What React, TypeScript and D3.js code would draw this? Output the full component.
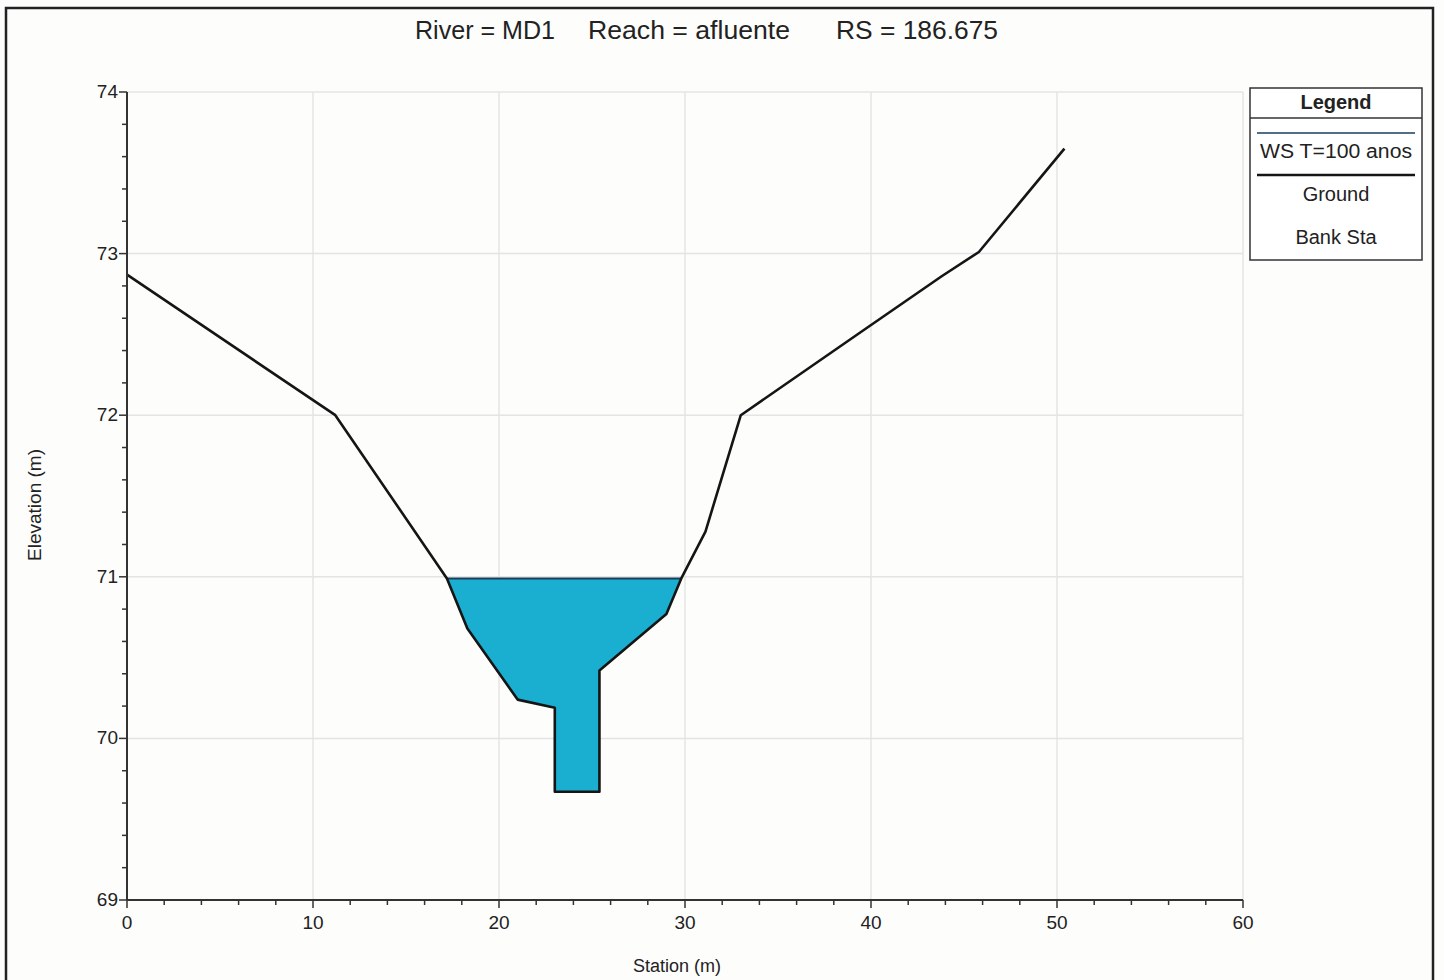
import React from "react";
import * as d3 from "d3";

const groundStation = [0, 11.2, 17.2, 18.3, 21.0, 23.0, 23.0, 25.4, 25.4, 29.0, 29.8, 31.1, 33.0, 39.4, 43.8, 45.8, 50.4];
const groundElev = [72.87, 72.0, 70.99, 70.68, 70.24, 70.19, 69.67, 69.67, 70.42, 70.77, 70.99, 71.28, 72.0, 72.51, 72.86, 73.01, 73.65];
const wsElev = 70.99;
const xTicks = [0, 10, 20, 30, 40, 50, 60];
const yTicks = [69, 70, 71, 72, 73, 74];
const legendItems = ["WS T=100 anos", "Ground", "Bank Sta"];
const titleParts = ["River = MD1", "Reach = afluente", "RS = 186.675"];

export default function App() {
  const W = 1444, H = 980;
  const x = d3.scaleLinear().domain([0, 60]).range([127, 1243]);
  const y = d3.scaleLinear().domain([69, 74]).range([900, 92]);
  const pts: [number, number][] = groundStation.map((s, i) => [s, groundElev[i]]);

  const waterPts: [number, number][] = [];
  for (let i = 0; i < pts.length - 1; i++) {
    const [x0, y0] = pts[i];
    const [x1, y1] = pts[i + 1];
    if (y0 <= wsElev) waterPts.push([x0, y0]);
    if ((y0 - wsElev) * (y1 - wsElev) < 0) {
      const t = (wsElev - y0) / (y1 - y0);
      waterPts.push([x0 + t * (x1 - x0), wsElev]);
    }
  }
  const line = d3.line<[number, number]>().x(d => x(d[0])).y(d => y(d[1]));
  const wsXmin = d3.min(waterPts, d => d[0]) as number;
  const wsXmax = d3.max(waterPts, d => d[0]) as number;

  const font = "Liberation Sans, Arial, sans-serif";
  const xMinor = d3.range(0, 60.001, 2);
  const yMinor = d3.range(69, 74.001, 0.2);

  const lgX = 1250, lgY = 88, lgW = 172, lgH = 172;
  const titleX = [415, 588, 836];

  return (
    <svg width={W} height={H} style={{ position: "absolute", left: 0, top: 0, background: "#fff" }} fontFamily={font}>
      <rect x={0} y={0} width={W} height={H} fill="#fdfdfc" />
      <rect x={6} y={8} width={1427} height={980} fill="none" stroke="#222" strokeWidth={2.5} />
      {titleParts.map((t, i) => (
        <text key={"tt" + i} x={titleX[i]} y={39} fontSize={25} fill="#222" textLength={i === 0 ? 140 : i === 1 ? 202 : 162} lengthAdjust="spacingAndGlyphs">{t}</text>
      ))}

      {xTicks.slice(1).map(t => (
        <line key={"gx" + t} x1={x(t)} x2={x(t)} y1={y(74)} y2={y(69)} stroke="#e4e4e4" strokeWidth={1.5} />
      ))}
      {yTicks.slice(1).map(t => (
        <line key={"gy" + t} x1={x(0)} x2={x(60)} y1={y(t)} y2={y(t)} stroke="#e4e4e4" strokeWidth={1.5} />
      ))}

      <path d={line(waterPts) + "Z"} fill="#1aafd0" stroke="none" />
      <line x1={x(wsXmin)} x2={x(wsXmax)} y1={y(wsElev)} y2={y(wsElev)} stroke="#1a3d5a" strokeWidth={2} />

      <path d={line(pts) as string} fill="none" stroke="#151515" strokeWidth={2.6} strokeLinejoin="round" />

      <line x1={x(0)} x2={x(60)} y1={y(69)} y2={y(69)} stroke="#333" strokeWidth={2} />
      <line x1={x(0)} x2={x(0)} y1={y(69)} y2={y(74)} stroke="#333" strokeWidth={2} />
      {xMinor.map(t => (
        <line key={"xm" + t} x1={x(t)} x2={x(t)} y1={y(69)} y2={y(69) + (t % 10 === 0 ? 8 : 5)} stroke="#333" strokeWidth={1.5} />
      ))}
      {yMinor.map(t => (
        <line key={"ym" + t} x1={x(0)} x2={x(0) - (Math.abs(t - Math.round(t)) < 0.01 ? 8 : 5)} y1={y(t)} y2={y(t)} stroke="#333" strokeWidth={1.5} />
      ))}
      {xTicks.map(t => (
        <text key={"xt" + t} x={x(t)} y={y(69) + 29} textAnchor="middle" fontSize={19} fill="#222">{t}</text>
      ))}
      {yTicks.map(t => (
        <text key={"yt" + t} x={x(0) - 9} y={y(t) + 6} textAnchor="end" fontSize={19} fill="#222">{t}</text>
      ))}
      <text x={677} y={972} textAnchor="middle" fontSize={18} fill="#222">Station (m)</text>
      <text transform={`translate(41,505) rotate(-90)`} textAnchor="middle" fontSize={19} fill="#222">Elevation (m)</text>

      <rect x={lgX} y={lgY} width={lgW} height={lgH} fill="#fff" stroke="#333" strokeWidth={1.5} />
      <text x={lgX + lgW / 2} y={lgY + 21} textAnchor="middle" fontSize={20} fontWeight="bold" fill="#222">Legend</text>
      <line x1={lgX} x2={lgX + lgW} y1={lgY + 30} y2={lgY + 30} stroke="#333" strokeWidth={1.5} />
      <line x1={lgX + 7} x2={lgX + lgW - 7} y1={lgY + 45} y2={lgY + 45} stroke="#1a3d5a" strokeWidth={1.5} />
      <text x={lgX + lgW / 2} y={lgY + 70} textAnchor="middle" fontSize={20} fill="#222" textLength={152} lengthAdjust="spacingAndGlyphs">{legendItems[0]}</text>
      <line x1={lgX + 7} x2={lgX + lgW - 7} y1={lgY + 87} y2={lgY + 87} stroke="#151515" strokeWidth={2.6} />
      <text x={lgX + lgW / 2} y={lgY + 113} textAnchor="middle" fontSize={20} fill="#222">{legendItems[1]}</text>
      <text x={lgX + lgW / 2} y={lgY + 156} textAnchor="middle" fontSize={20} fill="#222">{legendItems[2]}</text>
    </svg>
  );
}
